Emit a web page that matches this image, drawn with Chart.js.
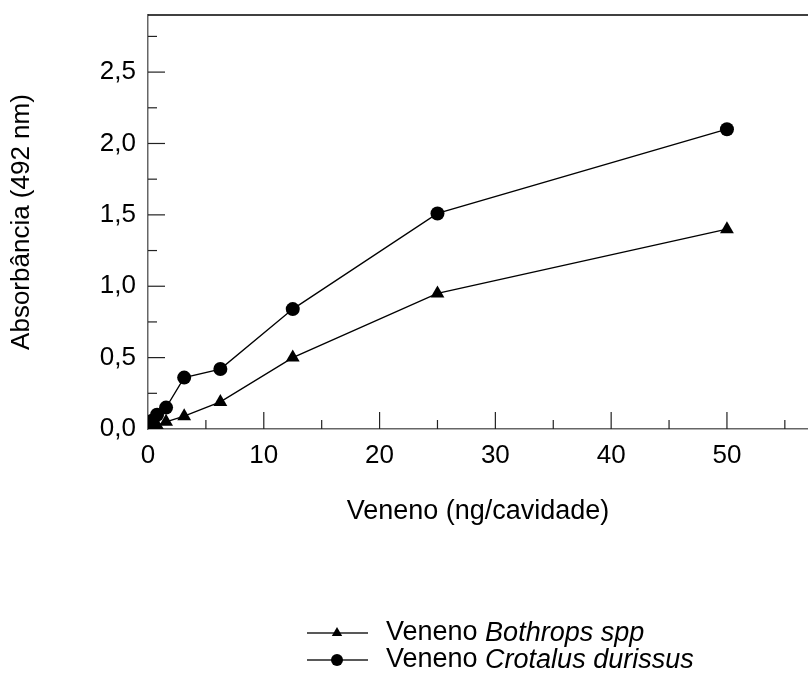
<!DOCTYPE html>
<html>
<head>
<meta charset="utf-8">
<script src="https://cdn.jsdelivr.net/npm/chart.js@4.4.1/dist/chart.umd.min.js"></script>
<style>
  body { margin: 0; background: #fff; }
  canvas { display: block; }
</style>
</head>
<body>
<canvas id="myChart" width="808" height="680"></canvas>
<script>
// venom dilutions (ng/well) and absorbance readings
var doses = [0.098, 0.195, 0.39, 0.78, 1.56, 3.125, 6.25, 12.5, 25, 50];
var bothrops = [0.01, 0.01, 0.015, 0.025, 0.05, 0.09, 0.19, 0.50, 0.95, 1.40];
var crotalus = [0.02, 0.04, 0.06, 0.10, 0.15, 0.36, 0.42, 0.84, 1.51, 2.10];
var speciesNames = ['Bothrops spp', 'Crotalus durissus'];
var speciesMarkers = ['triangle', 'circle'];
var xTicks = [0, 10, 20, 30, 40, 50];
var xMinorTicks = [5, 15, 25, 35, 45, 55];
var yTicks = [0, 0.5, 1.0, 1.5, 2.0, 2.5];
var yMinorTicks = [0.25, 0.75, 1.25, 1.75, 2.25, 2.75];

var FONT = 'Liberation Sans, Arial, sans-serif';

function toPoints(ys) {
    return doses.map(function (x, i) { return {x: x, y: ys[i]}; });
}

// inward tick marks, top border and the legend
var axisDecor = {
    id: 'axisDecor',
    afterDraw: function (chart) {
        var ctx = chart.ctx;
        var area = chart.chartArea;
        var xs = chart.scales.x, ys = chart.scales.y;
        ctx.save();
        ctx.strokeStyle = '#000';
        ctx.lineWidth = 1.5;
        ctx.beginPath();
        ctx.moveTo(area.left, area.top);
        ctx.lineTo(area.right, area.top);
        ctx.stroke();

        ctx.strokeStyle = '#222';
        ctx.lineWidth = 1.2;
        function xt(v, len) {
            var px = xs.getPixelForValue(v);
            ctx.beginPath(); ctx.moveTo(px, area.bottom); ctx.lineTo(px, area.bottom - len); ctx.stroke();
        }
        function yt(v, len) {
            var py = ys.getPixelForValue(v);
            ctx.beginPath(); ctx.moveTo(area.left, py); ctx.lineTo(area.left + len, py); ctx.stroke();
        }
        xTicks.forEach(function (v) { if (v > 0) xt(v, 17); });
        xMinorTicks.forEach(function (v) { xt(v, 9); });
        yTicks.forEach(function (v) { if (v > 0) yt(v, 17); });
        yMinorTicks.forEach(function (v) { yt(v, 9); });

        // legend
        var rowY = [633, 660];
        chart.data.datasets.forEach(function (ds, i) {
            var y = rowY[i];
            ctx.strokeStyle = '#222';
            ctx.lineWidth = 1.3;
            ctx.beginPath(); ctx.moveTo(307, y); ctx.lineTo(368, y); ctx.stroke();
            ctx.fillStyle = '#000';
            Chart.helpers.drawPoint(ctx, {pointStyle: ds.pointStyle, radius: 6, borderWidth: 0}, 337, y);
            ctx.textBaseline = 'middle';
            ctx.textAlign = 'left';
            ctx.font = '27px ' + FONT;
            var pre = 'Veneno ';
            ctx.fillText(pre, 386, y);
            var w = ctx.measureText(pre).width;
            ctx.font = 'italic 27px ' + FONT;
            ctx.fillText(speciesNames[i], 386 + w, y);
        });
        ctx.restore();
    }
};

var ctx = document.getElementById('myChart');
var chartInstance = new Chart(ctx, {
    type: 'scatter',
    data: {
        datasets: [{
            label: 'Veneno ' + speciesNames[0],
            data: toPoints(bothrops),
            showLine: true,
            borderColor: '#000',
            borderWidth: 1.3,
            backgroundColor: '#000',
            pointStyle: speciesMarkers[0],
            pointRadius: 8,
            pointBorderWidth: 0
        }, {
            label: 'Veneno ' + speciesNames[1],
            data: toPoints(crotalus),
            showLine: true,
            borderColor: '#000',
            borderWidth: 1.3,
            backgroundColor: '#000',
            pointStyle: speciesMarkers[1],
            pointRadius: 7,
            pointBorderWidth: 0
        }]
    },
    options: {
        responsive: false,
        animation: false,
        devicePixelRatio: 1,
        layout: { autoPadding: false, padding: { top: 15, right: 0, bottom: 0, left: 0 } },
        plugins: {
            legend: { display: false },
            tooltip: { enabled: false }
        },
        scales: {
            x: {
                type: 'linear',
                min: 0,
                max: 57,
                afterFit: function (s) { s.height = 251; s.paddingLeft = 0; s.paddingRight = 0; },
                afterBuildTicks: function (s) { s.ticks = xTicks.map(function (v) { return {value: v}; }); },
                grid: { display: false, drawTicks: false },
                border: { display: true, color: '#666', width: 1.5 },
                ticks: {
                    padding: 11,
                    color: '#000',
                    font: { family: FONT, size: 26 },
                    maxRotation: 0
                },
                title: {
                    display: true,
                    text: 'Veneno (ng/cavidade)',
                    color: '#000',
                    font: { family: FONT, size: 27 },
                    padding: { top: 0, bottom: 152 }
                }
            },
            y: {
                type: 'linear',
                min: 0,
                max: 2.9,
                afterFit: function (s) { s.width = 148; s.paddingTop = 0; s.paddingBottom = 0; },
                afterBuildTicks: function (s) { s.ticks = yTicks.map(function (v) { return {value: v}; }); },
                grid: { display: false, drawTicks: false },
                border: { display: true, color: '#666', width: 1.5 },
                ticks: {
                    padding: 12,
                    color: '#000',
                    font: { family: FONT, size: 26 },
                    callback: function (v) { return v.toFixed(1).replace('.', ','); }
                },
                title: {
                    display: true,
                    text: 'Absorbância (492 nm)',
                    color: '#000',
                    font: { family: FONT, size: 26 },
                    padding: { top: 6, bottom: 0 }
                }
            }
        }
    },
    plugins: [axisDecor]
});
</script>
</body>
</html>
